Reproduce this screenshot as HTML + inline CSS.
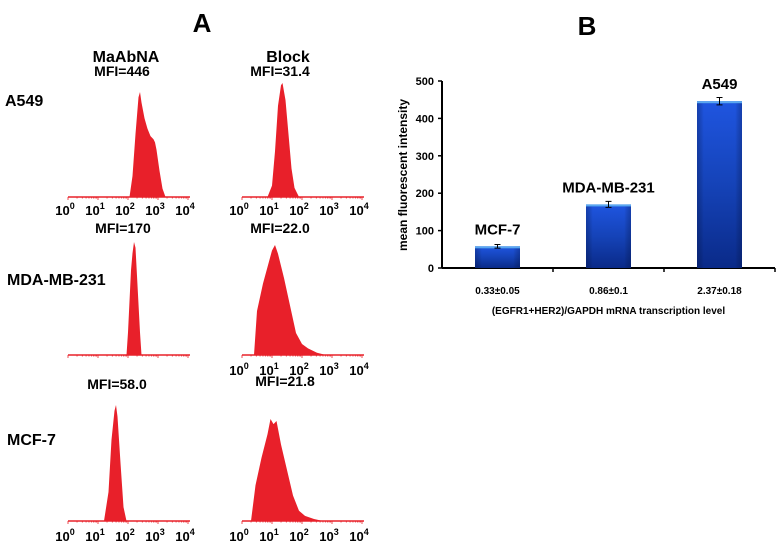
<!DOCTYPE html>
<html><head><meta charset="utf-8">
<style>
html,body{margin:0;padding:0;background:#fff}
svg{display:block;font-family:"Liberation Sans",Arial,sans-serif;font-weight:bold}
</style></head>
<body>
<svg id="fig" width="780" height="544" viewBox="0 0 780 544">
<defs>
<linearGradient id="barg" x1="0" y1="0" x2="0" y2="1">
<stop offset="0" stop-color="#1f55e0"/><stop offset="0.5" stop-color="#1543b8"/><stop offset="1" stop-color="#0a2a88"/>
</linearGradient>
<linearGradient id="barh" x1="0" y1="0" x2="1" y2="0">
<stop offset="0" stop-color="#001040" stop-opacity="0.3"/><stop offset="0.15" stop-color="#000" stop-opacity="0"/><stop offset="0.85" stop-color="#000" stop-opacity="0"/><stop offset="1" stop-color="#001040" stop-opacity="0.3"/>
</linearGradient>
</defs>
<text x="202" y="32" font-size="26" text-anchor="middle">A</text>
<text x="587" y="35" font-size="26" text-anchor="middle">B</text>
<text x="126" y="62" font-size="16" text-anchor="middle">MaAbNA</text>
<text x="288" y="62" font-size="16" text-anchor="middle">Block</text>
<text x="5" y="106" font-size="16">A549</text>
<text x="7" y="285" font-size="16">MDA-MB-231</text>
<text x="7" y="445" font-size="16">MCF-7</text>
<g id="hists"></g>
<g id="bars"></g>
</svg>
<script>
// Histogram data: log10 fluorescence positions and relative counts
const h1Logs=[2.05,2.15,2.25,2.35,2.4,2.45,2.55,2.65,2.75,2.85,2.9,2.95,3.05,3.15,3.25];
const h1Counts=[0,20,60,95,100,90,75,65,58,55,52,45,25,8,0];
const h2Logs=[0.85,1.0,1.1,1.2,1.3,1.35,1.45,1.55,1.65,1.75,1.9];
const h2Counts=[0,10,40,80,98,100,85,55,25,8,0];
const h3Logs=[1.95,2.0,2.1,2.15,2.2,2.25,2.3,2.4,2.45];
const h3Counts=[0,20,75,90,100,95,70,20,0];
const h4Logs=[0.4,0.5,0.7,0.9,1.0,1.1,1.2,1.4,1.6,1.8,2.0,2.2,2.5,2.8];
const h4Counts=[0,40,65,85,95,100,92,70,45,20,10,6,2,0];
const h5Logs=[1.2,1.35,1.45,1.55,1.6,1.65,1.75,1.85,1.95];
const h5Counts=[0,25,70,95,100,90,50,12,0];
const h6Logs=[0.3,0.45,0.65,0.85,0.95,1.05,1.15,1.3,1.5,1.7,1.9,2.1,2.4,2.7];
const h6Counts=[0,35,62,85,100,95,98,75,50,25,10,5,2,0];
const mfiLabels=["MFI=446","MFI=31.4","MFI=170","MFI=22.0","MFI=58.0","MFI=21.8"];
const tickLabels=["0","1","2","3","4"];
// Bar chart data
const categories=["MCF-7","MDA-MB-231","A549"];
const levelLabels=["0.33\u00B10.05","0.86\u00B10.1","2.37\u00B10.18"];
const mfiValues=[58,170,446];
const mfiErrors=[5,8,10];
const yTicks=[0,100,200,300,400,500];

const NS="http://www.w3.org/2000/svg";
function mk(tag,attrs,parent){const e=document.createElementNS(NS,tag);for(const k in attrs)e.setAttribute(k,attrs[k]);parent.appendChild(e);return e;}

const panels=[
 {logs:h1Logs,counts:h1Counts,x0:68,base:197,peak:105,ticks:true,lab:[122,76],tl:210},
 {logs:h2Logs,counts:h2Counts,x0:242,base:197,peak:114,ticks:true,lab:[280,76],tl:210},
 {logs:h3Logs,counts:h3Counts,x0:68,base:355,peak:113,ticks:false,lab:[123,233]},
 {logs:h4Logs,counts:h4Counts,x0:242,base:355,peak:110,ticks:true,lab:[280,233],tl:370},
 {logs:h5Logs,counts:h5Counts,x0:68,base:521,peak:116,ticks:true,lab:[117,389],tl:536},
 {logs:h6Logs,counts:h6Counts,x0:242,base:521,peak:102,ticks:true,lab:[285,386],tl:536}
];
const hg=document.getElementById('hists');
panels.forEach((p,i)=>{
 const g=mk('g',{},hg);
 
 
 const xs=v=>p.x0+v*30;
 const ys=c=>p.base-c/100*p.peak;
 const base=mk('line',{x1:p.x0,x2:p.x0+122,y1:p.base,y2:p.base,stroke:'#e8222a','stroke-width':1.5},g);
 
 
 for(let d=0;d<=4;d++){for(let m=1;m<10;m++){if(d==4&&m>1)break;const x=xs(d+Math.log10(m));mk('line',{x1:x,x2:x,y1:p.base,y2:p.base+(m==1?3:1.5),stroke:'#e8222a','stroke-width':0.8},g);}}
 let dstr='M'+xs(p.logs[0])+','+p.base;
 p.logs.forEach((l,j)=>{dstr+=' L'+xs(l).toFixed(1)+','+ys(p.counts[j]).toFixed(1);});
 dstr+=' L'+xs(p.logs[p.logs.length-1])+','+p.base+' Z';
 const path=mk('path',{d:dstr,fill:'#e8202a'},g);
 
 
 const t=mk('text',{x:p.lab[0],y:p.lab[1],'font-size':14,'text-anchor':'middle'},g);
 t.textContent=mfiLabels[i];
 
 
 if(p.ticks){tickLabels.forEach((s,k)=>{
  const tt=mk('text',{x:xs(k)-3,y:p.tl+5,'font-size':13,'text-anchor':'middle'},g);
  tt.textContent='10';
  
  
  const sp=mk('tspan',{dy:-6,'font-size':9},tt);sp.textContent=s;
 });}
});

// Bar chart
const bg=document.getElementById('bars');
const X0=442,X1=775,Y0=268,Y500=81;
const yS=v=>Y0-(v/500)*(Y0-Y500);
const band=(X1-X0)/categories.length;
const xC=i=>X0+band*(i+0.5);
const bw=45;
const yax=mk('line',{x1:X0,x2:X0,y1:Y500,y2:Y0,stroke:'#000','stroke-width':2},bg);


const xax=mk('line',{x1:X0,x2:X1,y1:Y0,y2:Y0,stroke:'#000','stroke-width':2},bg);


yTicks.forEach(v=>{
 mk('line',{x1:X0-4,x2:X0,y1:yS(v),y2:yS(v),stroke:'#000','stroke-width':1.5},bg);
 const t=mk('text',{x:X0-8,y:yS(v)+4,'font-size':11,'text-anchor':'end'},bg);
 t.textContent=v;
 
 
});
categories.forEach((c,i)=>{
 const x=xC(i);
 mk('line',{x1:X0+band*(i+1),x2:X0+band*(i+1),y1:Y0,y2:Y0+4,stroke:'#000','stroke-width':1.5},bg);
 const top=yS(mfiValues[i]);
 const r=mk('rect',{x:x-bw/2,y:top,width:bw,height:Y0-top,fill:'url(#barg)'},bg);
 
 
 mk('rect',{x:x-bw/2,y:top,width:bw,height:Y0-top,fill:'url(#barh)'},bg);
 mk('rect',{x:x-bw/2,y:top,width:bw,height:2,fill:'#5aa8f0'},bg);
 const e1=yS(mfiValues[i]+mfiErrors[i]),e2=yS(mfiValues[i]-mfiErrors[i]);
 const eb=mk('path',{d:`M${x},${e1} L${x},${e2} M${x-3},${e1} L${x+3},${e1} M${x-3},${e2} L${x+3},${e2}`,stroke:'#000','stroke-width':1,fill:'none'},bg);
 
 
 const lb=mk('text',{x:x,y:top-12,'font-size':15,'text-anchor':'middle'},bg);
 lb.textContent=c;
 
 
 const xl=mk('text',{x:x,y:294,'font-size':10,'text-anchor':'middle'},bg);
 xl.textContent=levelLabels[i];
 
 
});
const xt=mk('text',{x:X0+(X1-X0)/2,y:314,'font-size':10,'text-anchor':'middle'},bg);
xt.textContent='(EGFR1+HER2)/GAPDH mRNA transcription level';


const yt=mk('text',{x:0,y:0,'font-size':12,'text-anchor':'middle',transform:'translate(407,175) rotate(-90)'},bg);
yt.textContent='mean fluorescent intensity';


</script>
</body></html>
